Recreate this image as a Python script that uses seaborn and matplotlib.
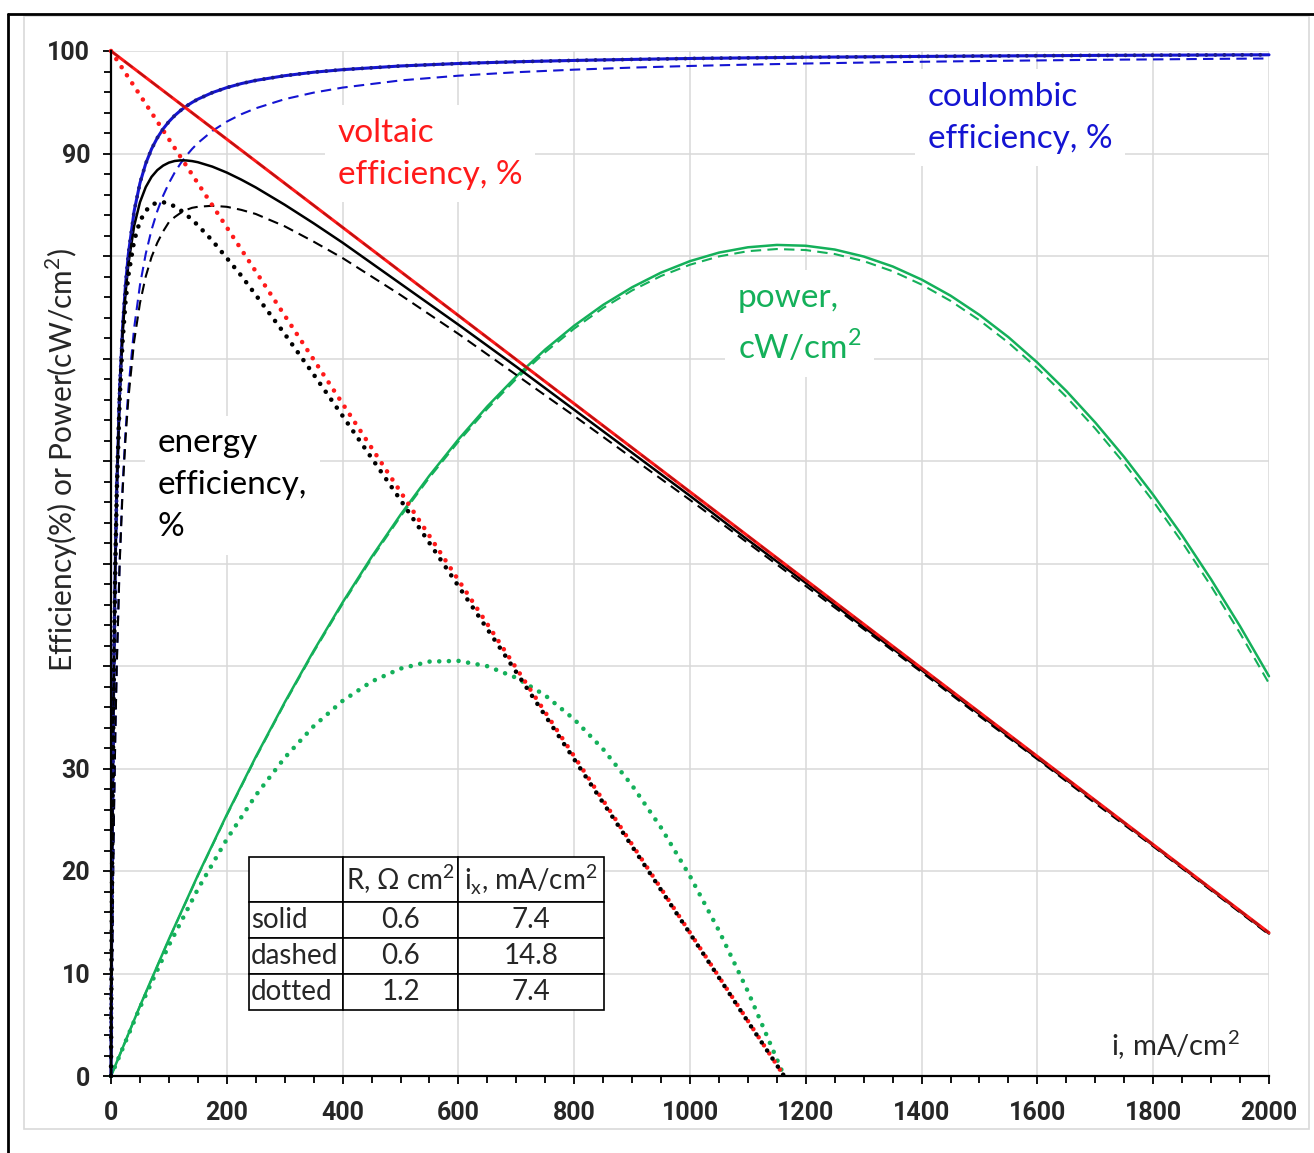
import matplotlib
matplotlib.use("Agg")
import matplotlib.pyplot as plt
from matplotlib.ticker import MultipleLocator, FixedLocator
from matplotlib.lines import Line2D
from matplotlib.patches import Rectangle
import seaborn as sns
import pandas as pd

# ---------------- data (current density i in mA/cm2) ----------------
current_fine = [0, 1, 2, 3, 5, 7.5, 10, 15, 20, 25, 30, 40, 50, 60, 70, 80, 90, 100,
                110, 120, 130, 140, 150, 175, 200, 225, 250, 300, 350, 400, 500, 600,
                700, 800, 900, 1000, 1100, 1200, 1300, 1400, 1500, 1600, 1700, 1800,
                1900, 2000]

coulombic_solid = [0.0, 11.9, 21.3, 28.8, 40.3, 50.3, 57.5, 67.0, 73.0, 77.16, 80.2,
                   84.39, 87.11, 89.02, 90.44, 91.53, 92.40, 93.11, 93.70, 94.19,
                   94.61, 94.98, 95.30, 95.94, 96.43, 96.82, 97.13, 97.59, 97.93,
                   98.18, 98.54, 98.78, 98.95, 99.08, 99.18, 99.27, 99.33, 99.39,
                   99.43, 99.47, 99.51, 99.54, 99.57, 99.59, 99.61, 99.63]

coulombic_dashed = [0.0, 6.3, 11.9, 16.9, 25.3, 33.6, 40.3, 50.3, 57.5, 62.81, 67.0,
                    72.99, 77.16, 80.21, 82.55, 84.39, 85.88, 87.11, 88.14, 89.02,
                    89.78, 90.44, 91.02, 92.20, 93.11, 93.83, 94.41, 95.30, 95.94,
                    96.43, 97.13, 97.59, 97.93, 98.18, 98.38, 98.54, 98.67, 98.78,
                    98.87, 98.95, 99.02, 99.08, 99.14, 99.18, 99.23, 99.27]

energy_solid = [0.0, 11.9, 21.3, 28.8, 40.2, 50.2, 57.2, 66.5, 72.4, 76.33, 79.2,
                82.94, 85.24, 86.72, 87.72, 88.38, 88.82, 89.11, 89.27, 89.33, 89.32,
                89.26, 89.15, 88.72, 88.14, 87.45, 86.69, 85.00, 83.19, 81.3, 77.3,
                73.3, 69.2, 65.0, 60.8, 56.6, 52.3, 48.1, 43.8, 39.6, 35.3, 31.0,
                26.8, 22.5, 18.2, 13.9]

energy_dashed = [0.0, 6.3, 11.9, 16.8, 25.2, 33.5, 40.1, 50.0, 57.0, 62.1, 66.1,
                 71.7, 75.4, 78.0, 79.9, 81.3, 82.4, 83.3, 83.8, 84.2, 84.5, 84.7,
                 84.8, 84.9, 84.8, 84.5, 84.1, 82.9, 81.4, 79.8, 76.2, 72.4, 68.4,
                 64.4, 60.3, 56.2, 52.0, 47.8, 43.6, 39.4, 35.1, 30.9, 26.6, 22.4,
                 18.1, 13.8]

current_dotted = [0, 1, 2, 3, 5, 7.5, 10, 15, 20, 25, 30, 40, 50, 60, 70, 80, 90, 100,
                  110, 120, 130, 140, 150, 175, 200, 225, 250, 300, 350, 400, 500, 600,
                  700, 800, 900, 1000, 1100, 1162.5]

energy_dotted = [0.0, 11.9, 21.2, 28.8, 40.1, 50.0, 57.0, 66.1, 71.7, 75.5, 78.1,
                 81.5, 83.4, 84.4, 85.0, 85.2, 85.25, 85.1, 84.84, 84.47, 84.03,
                 83.54, 83.0, 81.5, 79.8, 78.08, 76.2, 72.4, 68.44, 64.4, 56.2, 47.8,
                 39.4, 30.9, 22.4, 13.9, 5.3, 0.0]

current_ve = [0, 500, 1000, 1500, 2000]
voltaic_solid = [100.0, 78.49, 56.99, 35.48, 13.98]

current_ve_dotted = [0, 500, 1000, 1162.5]
voltaic_dotted = [100.0, 56.99, 13.98, 0.0]

current_power = [0, 50, 100, 150, 200, 250, 300, 350, 400, 450, 500, 550, 600, 650,
                 700, 750, 800, 850, 900, 950, 1000, 1050, 1100, 1150, 1200, 1250,
                 1300, 1350, 1400, 1450, 1500, 1550, 1600, 1650, 1700, 1750, 1800,
                 1850, 1900, 1950, 2000]
power_solid = [0.0, 6.83, 13.35, 19.58, 25.50, 31.13, 36.45, 41.48, 46.20, 50.63,
               54.75, 58.58, 62.10, 65.33, 68.25, 70.88, 73.20, 75.23, 76.95, 78.38,
               79.50, 80.33, 80.85, 81.08, 81.00, 80.63, 79.95, 78.98, 77.70, 76.13,
               74.25, 72.08, 69.60, 66.83, 63.75, 60.38, 56.70, 52.73, 48.45, 43.88,
               39.00]
power_dashed = [0.0, 6.81, 13.32, 19.53, 25.43, 31.04, 36.35, 41.36, 46.06, 50.47,
                54.58, 58.39, 61.89, 65.10, 68.01, 70.62, 72.92, 74.93, 76.64, 78.05,
                79.15, 79.96, 80.47, 80.68, 80.58, 80.19, 79.50, 78.51, 77.21, 75.62,
                73.73, 71.54, 69.04, 66.25, 63.16, 59.77, 56.07, 52.08, 47.79, 43.20,
                38.30]

current_power_dotted = [0, 50, 100, 150, 200, 250, 300, 350, 400, 450, 500, 550, 600,
                        650, 700, 750, 800, 850, 900, 950, 1000, 1050, 1100, 1162.5]
power_dotted = [0.0, 6.68, 12.75, 18.23, 23.10, 27.38, 31.05, 34.13, 36.60, 38.48,
                39.75, 40.43, 40.50, 39.98, 38.85, 37.13, 34.80, 31.88, 28.35,
                24.23, 19.50, 14.18, 8.25, 0.0]

stub_x = [0, 0]
stub_y = [7.5, 15.0]

table_rows = ["solid", "dashed", "dotted"]
table_R = ["0.6", "0.6", "1.2"]
table_ix = ["7.4", "14.8", "7.4"]

y_tick_values = [0, 10, 20, 30, 40, 50, 60, 70, 80, 90, 100]
y_tick_labels = ["0", "10", "20", "30", "", "", "", "", "", "90", "100"]
x_tick_values = [0, 200, 400, 600, 800, 1000, 1200, 1400, 1600, 1800, 2000]

# ---------------- style ----------------
sns.set_style("white")
plt.rcParams["font.family"] = ["Lato", "DejaVu Sans"]
plt.rcParams["mathtext.fontset"] = "custom"
plt.rcParams["mathtext.rm"] = "Lato"

RED = "#ff1a1a"
BLUE = "#1414d2"
GREEN = "#14b05a"
BLACK = "#000000"
ORANGE = "#f0a060"
TICK_FONT = ["Roboto", "DejaVu Sans"]

SOLID = dict(linestyle="-", lw=1.8, solid_joinstyle="round")
DASHED = dict(linestyle=(0, (5, 3)), lw=1.5)
DOTTED = dict(linestyle=(0, (0.01, 2.1)), lw=3.3, dash_capstyle="round")

fig = plt.figure(figsize=(13.14, 11.53), dpi=100)
W, H = 1314, 1153

# outer frames
fig.add_artist(Rectangle((24 / W, 1 - 1129 / H), (1309 - 24) / W, (1129 - 16) / H,
                         transform=fig.transFigure, fill=False, edgecolor="#d9d9d9", lw=1.2))
fig.add_artist(Line2D([8 / W, 8 / W], [0, 1 - 14 / H], transform=fig.transFigure,
                      color="black", lw=2))
fig.add_artist(Line2D([8 / W, 1], [1 - 14 / H, 1 - 14 / H], transform=fig.transFigure,
                      color="black", lw=2))

ax = fig.add_axes([111 / W, 1 - 1076 / H, (1269 - 111) / W, (1076 - 51) / H])


def draw(x, y, color, style, z=2):
    line_df = pd.DataFrame({"i": x, "v": y})
    sns.lineplot(data=line_df, x="i", y="v", color=color, ax=ax, sort=False,
                 errorbar=None, clip_on=False, zorder=z, **style)


# power
draw(current_power, power_solid, GREEN, SOLID)
draw(current_power, power_dashed, GREEN, DASHED)
draw(current_power_dotted, power_dotted, GREEN, DOTTED)

# coulombic efficiency (dotted case coincides with solid)
draw(current_fine, coulombic_dashed, BLUE, DASHED)
draw(current_fine, coulombic_solid, BLUE, dict(linestyle="-", lw=2.2))
draw(current_fine, coulombic_solid, "#1a1a8c", dict(linestyle=(0, (0.01, 2.3)), lw=2.8,
                                                    dash_capstyle="round"), z=2.1)

# energy efficiency
draw(current_fine, energy_dashed, BLACK, DASHED)
draw(current_fine, energy_solid, BLACK, SOLID)

# voltaic efficiency (dashed case coincides with solid)
draw(current_ve, voltaic_solid, RED, dict(linestyle="-", lw=2.2))
draw(current_ve, voltaic_solid, "#c01010", DASHED, z=2.1)
draw(current_ve_dotted, voltaic_dotted, RED, DOTTED)
draw(current_dotted, energy_dotted, BLACK, DOTTED, z=2.2)

draw(stub_x, stub_y, ORANGE, dict(linestyle="-", lw=3), z=2.3)

# ---------------- axes ----------------
ax.set_xlim(0, 2000)
ax.set_ylim(0, 100)
ax.set_xlabel("")
ax.set_ylabel("")
ax.xaxis.set_major_locator(FixedLocator(x_tick_values))
ax.xaxis.set_minor_locator(MultipleLocator(50))
ax.yaxis.set_major_locator(FixedLocator(y_tick_values))
ax.yaxis.set_minor_locator(MultipleLocator(2))
ax.set_xticklabels([str(v) for v in x_tick_values], fontweight="bold", fontsize=18,
                   family=TICK_FONT)
ax.set_yticklabels(y_tick_labels, fontweight="bold", fontsize=18, family=TICK_FONT)
ax.tick_params(axis="both", which="major", direction="out", length=6, width=1.3,
               color="black")
ax.tick_params(axis="both", which="minor", direction="out", length=5, width=1.3,
               color="black")
ax.tick_params(axis="x", which="major", pad=12)
ax.tick_params(axis="y", which="major", pad=9)
ax.tick_params(axis="x", which="both", bottom=True)
ax.tick_params(axis="y", which="both", left=True)
ax.grid(True, which="major", color="#d9d9d9", lw=1.1)
ax.set_axisbelow(True)
for side in ("top", "right"):
    ax.spines[side].set_visible(False)
for side in ("left", "bottom"):
    ax.spines[side].set_color("black")
    ax.spines[side].set_linewidth(1.6)

fig.text(62 / W, 1 - 460 / H, "Efficiency(%) or Power(cW/cm$^2$)", rotation=90,
         ha="center", va="center", fontsize=21.5)

ax.text(1950, 3.0, "i, mA/cm$^2$", ha="right", va="center", fontsize=21)

# ---------------- curve labels ----------------
box = dict(facecolor="white", edgecolor="none", pad=9)
label_kw = dict(fontsize=24, ha="left", va="top", linespacing=1.5, bbox=box, zorder=1)
ax.text(392, 93.5, "voltaic\nefficiency, %", color=RED, **label_kw)
ax.text(1411, 97.0, "coulombic\nefficiency, %", color=BLUE, **label_kw)
ax.text(1083, 77.4, "power,\ncW/cm$^2$", color=GREEN, **label_kw)
ax.text(81, 63.2, "energy\nefficiency,\n%", color=BLACK, **label_kw)

# ---------------- parameter table ----------------
cell_text = [["", "R, Ω cm$^2$", "i$_\\mathregular{x}$, mA/cm$^2$"]]
for name, r, ix in zip(table_rows, table_R, table_ix):
    cell_text.append([name, r, ix])
col_w = [94, 115, 146]
tbl = ax.table(cellText=cell_text, colWidths=[c / 355 for c in col_w],
               cellLoc="center", loc="lower left",
               bbox=[(249 - 111) / 1158, (1076 - 1010) / 1025, 355 / 1158, 153 / 1025])
tbl.auto_set_font_size(False)
row_h = [45, 36, 36, 36]
for (r, c), cell in tbl.get_celld().items():
    cell.set_height(row_h[r] / 1025)
    cell.set_edgecolor("black")
    cell.set_linewidth(1.2)
    cell.set_facecolor("white")
    cell.get_text().set_fontsize(20)
    if c == 0:
        cell.get_text().set_ha("left")
        cell.PAD = 0.02
tbl.set_zorder(4)

fig.savefig("out.png", dpi=100, facecolor="white")
